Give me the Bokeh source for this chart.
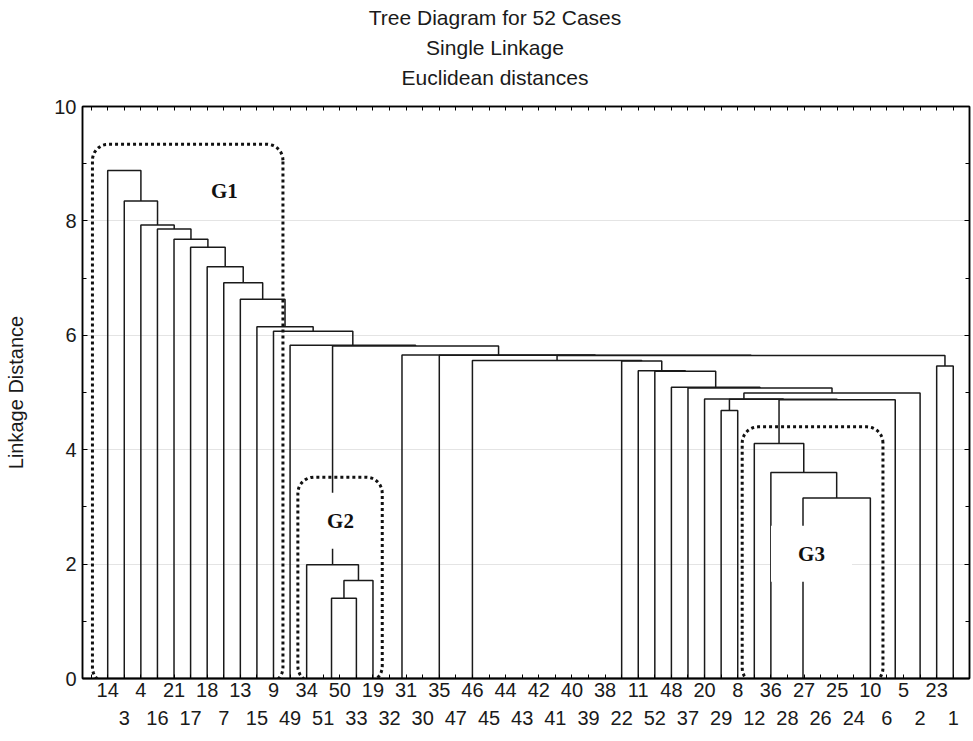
import math
from bokeh.plotting import figure
from bokeh.layouts import column
from bokeh.models import (Range1d, LinearAxis, FixedTicker, SingleIntervalTicker, Grid,
                          PolyAnnotation, ColumnDataSource)
from bokeh.embed import file_html
from bokeh.resources import INLINE
from bokeh.core.properties import value

# ---------------- data ----------------
titles = ["Tree Diagram for 52 Cases", "Single Linkage", "Euclidean distances"]
y_label = "Linkage Distance"

leaf_order = [14, 3, 4, 16, 21, 17, 18, 7, 13, 15, 9, 49, 34, 51, 50, 33, 19, 32, 31,
              30, 35, 47, 46, 45, 44, 43, 42, 41, 40, 39, 38, 22, 11, 52, 48, 37, 20,
              29, 8, 12, 36, 28, 27, 26, 25, 24, 10, 6, 5, 2, 23, 1]

# single-linkage merges: new cluster name, left member, right member, linkage distance
merge_names = ["c%d" % i for i in range(1, 52)]
merge_left = [51, 31, 32, 39, 40, 41, 42, 43, 44, 45, 46, 47, 25, 26, 27, 28, 6,
              "c1", "c18", 34, "c16", 36, 12, 29, "c23", "c24", 20, "c27", 37, 48,
              52, 11, 23, 22, "c12", "c35", 35, "c3", "c20", 49, 9, 15, 13, 7, 18,
              17, 21, 16, 4, 3, 14]
merge_right = [50, 30, "c2", 38, "c4", "c5", "c6", "c7", "c8", "c9", "c10", "c11", 24,
               "c13", "c14", "c15", 5, 33, 19, "c19", 10, "c21", "c22", 8, "c17",
               "c25", "c26", 2, "c28", "c29", "c30", "c31", 1, "c32", "c34", "c33",
               "c36", "c37", "c38", "c39", "c40", "c41", "c42", "c43", "c44", "c45",
               "c46", "c47", "c48", "c49", "c50"]
merge_height = [0, 0, 0, 0, 0, 0, 0, 0, 0, 0, 0, 0, 0, 0, 0, 0, 0,
                1.405, 1.715, 1.99, 3.155, 3.60, 4.11, 4.685, 4.875, 4.88, 4.885,
                4.99, 5.08, 5.09, 5.37, 5.38, 5.465, 5.55, 5.56, 5.645, 5.65, 5.655,
                5.815, 5.825, 6.07, 6.15, 6.63, 6.92, 7.20, 7.54, 7.68, 7.86, 7.93,
                8.35, 8.88]

group_names = ["G1", "G2", "G3"]
group_left = [0.08, 12.47, 39.27]
group_right = [11.57, 17.56, 47.76]
group_bottom = [-0.09, -0.07, -0.10]
group_top = [9.34, 3.52, 4.40]
group_label_x = [8.04, 15.04, 43.45]
group_label_y = [8.52, 2.76, 2.18]
group_box_w = [82, 60, 81]
group_box_h = [57, 56, 56]

# ---------------- layout constants ----------------
W = 972
TH = 96            # height of the title strip
H = 644            # height of the chart figure
BL, BR, BT, BB = 82, 3, 10, 62
X0, X1 = -0.52, 52.98
FRAME_W = W - BL - BR
FRAME_H = H - BT - BB
px_x = FRAME_W / (X1 - X0)
px_y = FRAME_H / 10.0

FONT = "Liberation Sans"
TXT = "#1a1a1a"
FS = "20px"

# ---------------- title strip ----------------
# the column aligns this strip's frame with the chart frame, so its x range is
# expressed in page pixels of that frame
pt = figure(width=W, height=TH, x_range=Range1d(BL, W - BR), y_range=Range1d(0, TH),
            output_backend="svg", toolbar_location=None, min_border=0,
            min_border_left=BL, min_border_right=BR,
            x_axis_location=None, y_axis_location=None)
pt.outline_line_color = None
pt.grid.visible = False
title_cx = 494.5
title_offsets = [17, 47, 77]
pt.text(x=[title_cx] * len(titles), y=[TH - o for o in title_offsets], text=titles,
        text_align="center", text_baseline="middle", text_font=value(FONT),
        text_font_size="21px", text_color=TXT)

# ---------------- chart ----------------
p = figure(width=W, height=H, x_range=Range1d(X0, X1), y_range=Range1d(0, 10),
           output_backend="svg", toolbar_location=None,
           min_border_left=BL, min_border_right=BR, min_border_top=BT, min_border_bottom=BB,
           x_axis_location=None, y_axis_location=None)
p.grid.visible = False
p.outline_line_color = "black"
p.outline_line_width = 1.5

yt = SingleIntervalTicker(interval=2, num_minor_ticks=2)
yl = LinearAxis(ticker=yt, axis_label=y_label)
yl.axis_label_text_font = FONT
yl.axis_label_text_font_size = FS
yl.axis_label_text_font_style = "normal"
yl.axis_label_text_color = TXT
yl.axis_label_standoff = 24
yl.major_label_text_font = FONT
yl.major_label_text_font_size = FS
yl.major_label_text_color = TXT
yl.major_label_standoff = 6
yl.axis_line_width = 1.5
yl.major_tick_in = 5
yl.major_tick_out = 0
yl.minor_tick_in = 4
yl.minor_tick_out = 0
p.add_layout(yl, "left")

yr = LinearAxis(ticker=yt)
yr.major_label_text_font_size = "0px"
yr.major_label_text_color = None
yr.major_label_standoff = 0
yr.axis_line_width = 1.5
yr.major_tick_in = 5
yr.major_tick_out = 0
yr.minor_tick_in = 4
yr.minor_tick_out = 0
p.add_layout(yr, "right")

n = len(leaf_order)
odd_pos = [i + 1 for i in range(n) if i % 2 == 0]
even_pos = [i + 1 for i in range(n) if i % 2 == 1]
top_row = {i + 1: str(leaf) for i, leaf in enumerate(leaf_order) if i % 2 == 0}
bot_row = {i + 1: str(leaf) for i, leaf in enumerate(leaf_order) if i % 2 == 1}
other_pos = [k for k in range(0, n + 2) if k not in top_row]

xb = LinearAxis(ticker=FixedTicker(ticks=odd_pos, minor_ticks=other_pos))
xb.major_label_overrides = top_row
xb.major_label_text_font = FONT
xb.major_label_text_font_size = FS
xb.major_label_text_color = TXT
xb.major_label_standoff = 4
xb.axis_line_width = 2
xb.major_tick_in = 4
xb.major_tick_out = 0
xb.minor_tick_in = 4
xb.minor_tick_out = 0
p.add_layout(xb, "below")

xb2 = LinearAxis(ticker=FixedTicker(ticks=even_pos))
xb2.major_label_overrides = bot_row
xb2.major_label_text_font = FONT
xb2.major_label_text_font_size = FS
xb2.major_label_text_color = TXT
xb2.major_label_standoff = 5
xb2.axis_line_color = None
xb2.major_tick_line_color = None
xb2.minor_tick_line_color = None
p.add_layout(xb2, "below")

xt = LinearAxis(ticker=FixedTicker(ticks=list(range(0, n + 2))))
xt.major_label_text_font_size = "0px"
xt.major_label_text_color = None
xt.major_label_standoff = 0
xt.axis_line_width = 1.5
xt.major_tick_in = 4
xt.major_tick_out = 0
xt.minor_tick_line_color = None
p.add_layout(xt, "above")

p.add_layout(Grid(dimension=1, ticker=yt, grid_line_color="#e4e4e4", grid_line_width=1))

# ---------------- dendrogram ----------------
xc = {leaf: float(i + 1) for i, leaf in enumerate(leaf_order)}
hc = {leaf: 0.0 for leaf in leaf_order}
xs, ys = [], []
for name, l, r, h in zip(merge_names, merge_left, merge_right, merge_height):
    xl, xr = xc[l], xc[r]
    if h > 0:
        xs.append([xl, xl, xr, xr])
        ys.append([hc[l], h, h, hc[r]])
    xc[name] = (xl + xr) / 2.0
    hc[name] = h
p.multi_line(xs=xs, ys=ys, line_color="#1a1a1a", line_width=1.5)

# ---------------- group boxes ----------------
def rounded(l, r, b, t, rad=16):
    rx, ry = rad / px_x, rad / px_y
    corners = [(r - rx, t - ry, 0, 90), (l + rx, t - ry, 90, 180),
               (l + rx, b + ry, 180, 270), (r - rx, b + ry, 270, 360)]
    qx, qy = [], []
    for cx, cy, a0, a1 in corners:
        for k in range(10):
            a = math.radians(a0 + (a1 - a0) * k / 9)
            qx.append(cx + rx * math.cos(a))
            qy.append(cy + ry * math.sin(a))
    return qx, qy

for gl, gr, gb, gt in zip(group_left, group_right, group_bottom, group_top):
    bx, by = rounded(gl, gr, gb, gt)
    p.add_layout(PolyAnnotation(xs=bx, ys=by, fill_color=None, fill_alpha=0,
                                line_color="#111111", line_alpha=1.0, line_width=3,
                                line_dash="3 3"))

gsrc = ColumnDataSource(dict(x=group_label_x, y=group_label_y, t=group_names,
                             w=group_box_w, h=group_box_h))
p.rect(x="x", y="y", width="w", height="h", width_units="screen", height_units="screen",
       source=gsrc, fill_color="white", line_color=None)
p.text(x="x", y="y", text="t", source=gsrc, text_align="center", text_baseline="middle",
       text_font=value("Liberation Serif"), text_font_style="bold", text_font_size="21px",
       text_color="#111111")

layout = column(pt, p, spacing=0)
open("out.html", "w").write(file_html(layout, INLINE))
